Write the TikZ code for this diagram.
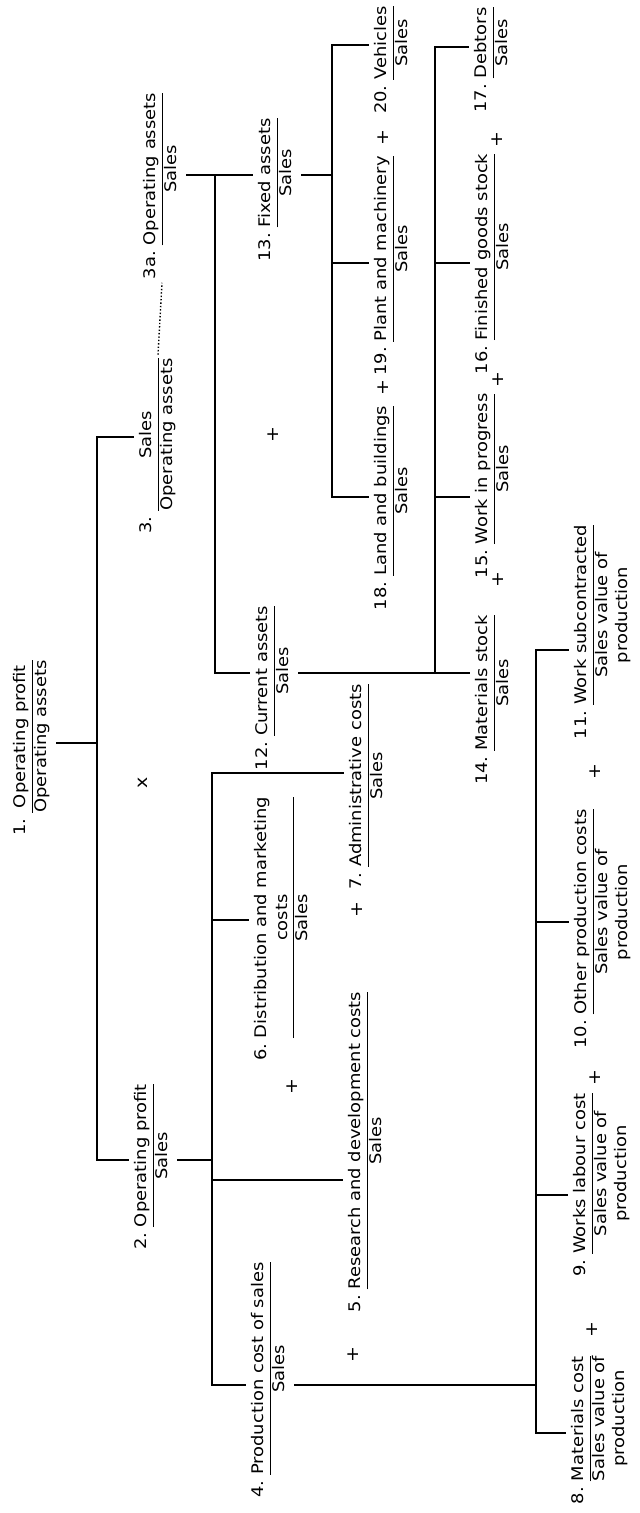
\documentclass[tikz,border=0pt]{standalone}
\usepackage{fontspec}
\setmainfont[FakeStretch=1.12]{DejaVu Sans}
\usetikzlibrary{calc}
\setlength\arrayrulewidth{1pt}
\renewcommand\arraystretch{1.2}
\newcommand\myfrac[3]{\begin{tabular}{@{}r@{\ }c@{}}#1 & #2\\\cline{2-2} & #3\end{tabular}}
\begin{document}
\begin{tikzpicture}[x=1pt,y=-1pt, line width=1.4pt,
  fr/.style={rotate=90, inner sep=3pt, font=\fontsize{16}{17}\selectfont},
  pl/.style={rotate=90, inner sep=1pt, font=\fontsize{17}{19}\selectfont}]
\useasboundingbox (0,0) rectangle (640,1513);
\fill[white] (0,0) rectangle (640,1513);
% nodes
\node[fr] (n1) at (32,748) {\myfrac{1.}{Operating profit}{Operating assets}};
\node[fr] (n2) at (153,1167) {\myfrac{2.}{Operating profit}{Sales}};
\node[fr] (n3) at (158,446) {\myfrac{3.}{Sales}{Operating assets}};
\node[fr] (n3a) at (162,186) {\myfrac{3a.}{Operating assets}{Sales}};
\node[fr] (n4) at (270,1380) {\myfrac{4.}{Production cost of sales}{Sales}};
\node[fr] (n5) at (367,1152) {\myfrac{5.}{Research and development costs}{Sales}};
\node[fr] (n6) at (283,929) {\myfrac{6.}{Distribution and marketing\\ & costs}{Sales}};
\node[fr] (n7) at (368,787) {\myfrac{7.}{Administrative costs}{Sales}};
\node[fr] (n8) at (600,1430) {\myfrac{8.}{Materials cost}{Sales value of\\ & production}};
\node[fr] (n9) at (602,1185) {\myfrac{9.}{Works labour cost}{Sales value of\\ & production}};
\node[fr] (n10) at (603,929) {\myfrac{10.}{Other production costs}{Sales value of\\ & production}};
\node[fr] (n11) at (603,632) {\myfrac{11.}{Work subcontracted}{Sales value of\\ & production}};
\node[fr] (n12) at (274,688) {\myfrac{12.}{Current assets}{Sales}};
\node[fr] (n13) at (277,190) {\myfrac{13.}{Fixed assets}{Sales}};
\node[fr] (n14) at (494,700) {\myfrac{14.}{Materials stock}{Sales}};
\node[fr] (n15) at (494,486) {\myfrac{15.}{Work in progress}{Sales}};
\node[fr] (n16) at (494,264) {\myfrac{16.}{Finished goods stock}{Sales}};
\node[fr] (n17) at (493,60) {\myfrac{17.}{Debtors}{Sales}};
\node[fr] (n18) at (393,508) {\myfrac{18.}{Land and buildings}{Sales}};
\node[fr] (n19) at (393,266) {\myfrac{19.}{Plant and machinery}{Sales}};
\node[fr] (n20) at (393,60) {\myfrac{20.}{Vehicles}{Sales}};
% operators
\node[pl] (x1) at (143,783) {x};
\node[pl] (p1) at (273,435) {+};
\node[pl] (p2) at (383,388) {+};
\node[pl] (p3) at (383,138) {+};
\node[pl] (p4) at (498,580) {+};
\node[pl] (p5) at (498,380) {+};
\node[pl] (p6) at (497,140) {+};
\node[pl] (p7) at (592,1330) {+};
\node[pl] (p8) at (595,1078) {+};
\node[pl] (p9) at (595,772) {+};
\node[pl] (p10) at (353,1355) {+};
\node[pl] (p11) at (292,1087) {+};
\node[pl] (p12) at (357,910) {+};
% bus coordinates
\coordinate (c1) at (97,743);
\coordinate (c3) at (97,437);
\coordinate (c2) at (97,1160);
\coordinate (d13) at (215,175);
\coordinate (d12) at (215,673);
\coordinate (e20) at (332,45);
\coordinate (e19) at (332,263);
\coordinate (e18) at (332,497);
\coordinate (e13) at (332,175);
\coordinate (f17) at (435,47);
\coordinate (f16) at (435,263);
\coordinate (f15) at (435,497);
\coordinate (f14) at (435,673);
\coordinate (g7) at (212,773);
\coordinate (g6) at (212,920);
\coordinate (g2) at (212,1160);
\coordinate (g5) at (212,1180);
\coordinate (g4) at (212,1385);
\coordinate (h11) at (536,650);
\coordinate (h10) at (536,922);
\coordinate (h9) at (536,1195);
\coordinate (h8) at (536,1433);
\coordinate (h4) at (536,1385);
% connectors
\draw (n1.south |- c1) -- (c1);
\draw (n3.north |- c3) -- (c3) -- (c2) -- (n2.north |- c2);
\draw (n3a.south |- d13) -- (n13.north |- d13);
\draw (d13) -- (d12) -- (n12.north |- d12);
\draw (n13.south |- e13) -- (e13);
\draw (n20.north |- e20) -- (e20) -- (e18) -- (n18.north |- e18);
\draw (e19) -- (n19.north |- e19);
\draw (n12.south |- f14) -- (n14.north |- f14);
\draw (n17.north |- f17) -- (f17) -- (f14);
\draw (f16) -- (n16.north |- f16);
\draw (f15) -- (n15.north |- f15);
\draw (n2.south |- g2) -- (g2);
\draw (n7.north |- g7) -- (g7) -- (g4) -- (n4.north |- g4);
\draw (g6) -- (n6.north |- g6);
\draw (g5) -- (n5.north |- g5);
\draw (n4.south |- h4) -- (h4);
\draw (n11.north |- h11) -- (h11) -- (h8) -- (n8.north |- h8);
\draw (h10) -- (n10.north |- h10);
\draw (h9) -- (n9.north |- h9);
\draw[dotted, line width=1.4pt] (n3.east) -- (n3a.west);
\end{tikzpicture}
\end{document}
